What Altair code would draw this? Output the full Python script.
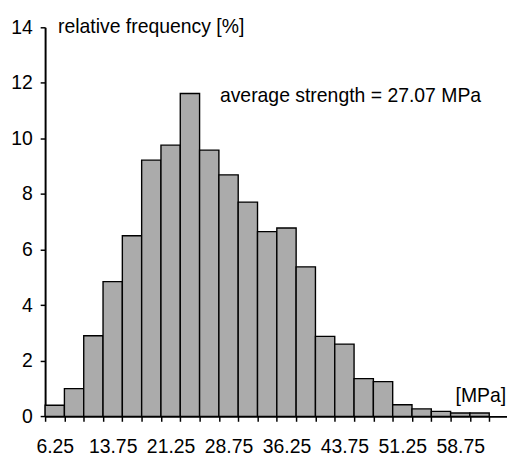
import altair as alt
import pandas as pd

# ---- data ----
bin_centers = [6.25, 8.75, 11.25, 13.75, 16.25, 18.75, 21.25, 23.75, 26.25, 28.75,
               31.25, 33.75, 36.25, 38.75, 41.25, 43.75, 46.25, 48.75, 51.25, 53.75,
               56.25, 58.75, 61.25]
rel_freq = [0.40, 1.00, 2.90, 4.85, 6.50, 9.22, 9.76, 11.62, 9.58, 8.69,
            7.71, 6.65, 6.78, 5.38, 2.88, 2.60, 1.36, 1.25, 0.42, 0.27,
            0.18, 0.12, 0.12]
bin_width = 2.5
x_label_values = [6.25, 13.75, 21.25, 28.75, 36.25, 43.75, 51.25, 58.75]
x_tick_labels = ["6.25", "13.75", "21.25", "28.75", "36.25", "43.75", "51.25", "58.75"]
y_ticks = [0, 2, 4, 6, 8, 10, 12, 14]
y_title = "relative frequency [%]"
x_unit = "[MPa]"
annotation = "average strength = 27.07 MPa"

FONT = "Liberation Sans, Arial, Helvetica, sans-serif"
FS = 19.7
W, H = 469.3, 395.3
X_DOMAIN = [5, 64.8]
px_per_unit = W / (X_DOMAIN[1] - X_DOMAIN[0])

df = pd.DataFrame({
    "center": bin_centers,
    "freq": rel_freq,
})
df["start"] = df["center"] - bin_width / 2
df["end"] = df["center"] + bin_width / 2

edges = sorted(set(df["start"].tolist() + df["end"].tolist()))

# label expression: ticks at bin edges, labels shown (shifted) at selected bin centres
expr = "''"
for v, lab in reversed(list(zip(x_label_values, x_tick_labels))):
    expr = f"abs(datum.value - {v - bin_width / 2}) < 0.01 ? '{lab}' : ({expr})"

x_enc = alt.X(
    "start:Q",
    scale=alt.Scale(domain=X_DOMAIN, nice=False, zero=False),
    axis=alt.Axis(
        values=edges, labelExpr=expr, labelOffset=bin_width / 2 * px_per_unit,
        title=None, grid=False, tickSize=5, tickWidth=1.5, tickColor="black",
        domainWidth=2, domainColor="black", labelFontSize=FS, labelColor="black",
        labelPadding=16, labelOverlap=False, labelFlush=False, labelBound=False,
    ),
)
y_enc = alt.Y(
    "freq:Q",
    scale=alt.Scale(domain=[0, 14], nice=False),
    axis=alt.Axis(
        values=y_ticks, title=y_title, titleAngle=0, titleAlign="left",
        titleBaseline="alphabetic", titleX=12.6, titleY=5.3, titleFontSize=FS,
        titleFontWeight="normal", titleColor="black",
        grid=False, tickSize=5, tickWidth=1.5, tickColor="black",
        domainWidth=2, domainColor="black", labelFontSize=FS, labelColor="black",
        labelPadding=8,
    ),
)

bars = alt.Chart(df).mark_rect(
    fill="#ababab", stroke="black", strokeWidth=1.4
).encode(x=x_enc, x2="end:Q", y=y_enc, y2=alt.datum(0))

ann = alt.Chart(pd.DataFrame({"label": [annotation]})).mark_text(
    align="left", baseline="alphabetic", fontSize=FS, font=FONT, color="black"
).encode(x=alt.value(177.6), y=alt.value(76), text="label:N")

unit = alt.Chart(pd.DataFrame({"label": [x_unit]})).mark_text(
    align="left", baseline="alphabetic", fontSize=FS, font=FONT, color="black"
).encode(x=alt.value(417), y=alt.value(381), text="label:N")

chart = alt.layer(bars, ann, unit).properties(
    width=W, height=H,
    autosize=alt.AutoSizeParams(type="none"),
    padding={"left": 37.7, "top": 16, "right": 0, "bottom": 40},
).configure(font=FONT).configure_view(stroke=None)

chart.save("out.html", embed_options={"renderer": "svg", "actions": False})
